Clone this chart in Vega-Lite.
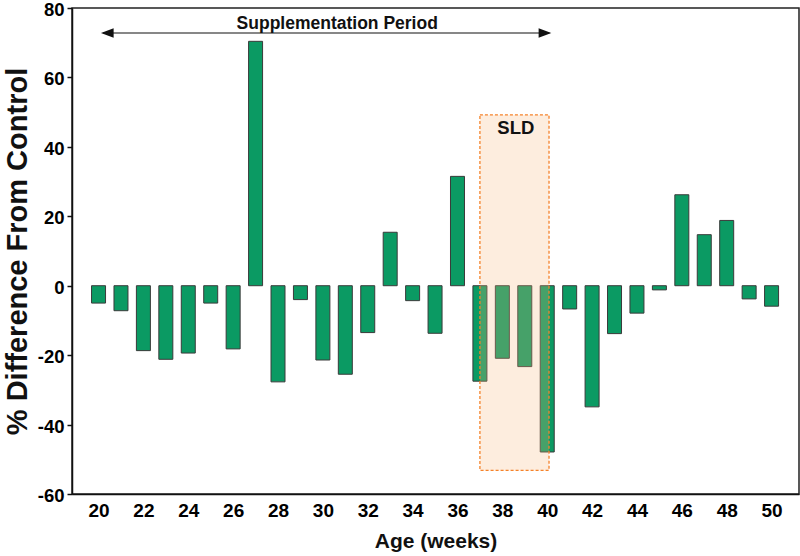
{
  "$schema": "https://vega.github.io/schema/vega-lite/v6.json",
  "autosize": {"type": "none"},
  "width": 727,
  "height": 486,
  "padding": {"left": 72, "top": 8, "right": 1, "bottom": 62},
  "background": "white",
  "config": {
    "font": "Liberation Sans",
    "view": {"stroke": "#222222", "strokeWidth": 1.5},
    "axis": {
      "grid": false,
      "domainColor": "#111111",
      "domainWidth": 1.5,
      "labelFont": "Liberation Sans",
      "labelFontWeight": 700,
      "labelColor": "#000000",
      "titleFont": "Liberation Sans",
      "titleFontWeight": "bold",
      "titleColor": "#111111"
    },
    "axisY": {"labelFontWeight": 700, "labelFontSize": 18.5}
  },
  "datasets": {
    "bars": [
      {"week": 20, "diff": -5.0},
      {"week": 21, "diff": -7.2},
      {"week": 22, "diff": -18.7},
      {"week": 23, "diff": -21.2},
      {"week": 24, "diff": -19.4},
      {"week": 25, "diff": -5.0},
      {"week": 26, "diff": -18.2},
      {"week": 27, "diff": 70.4},
      {"week": 28, "diff": -27.7},
      {"week": 29, "diff": -4.0},
      {"week": 30, "diff": -21.4},
      {"week": 31, "diff": -25.5},
      {"week": 32, "diff": -13.5},
      {"week": 33, "diff": 15.4},
      {"week": 34, "diff": -4.3},
      {"week": 35, "diff": -13.7},
      {"week": 36, "diff": 31.5},
      {"week": 37, "diff": -27.5},
      {"week": 38, "diff": -20.9},
      {"week": 39, "diff": -23.3},
      {"week": 40, "diff": -47.9},
      {"week": 41, "diff": -6.7},
      {"week": 42, "diff": -34.9},
      {"week": 43, "diff": -13.8},
      {"week": 44, "diff": -7.9},
      {"week": 45, "diff": -1.2},
      {"week": 46, "diff": 26.2},
      {"week": 47, "diff": 14.7},
      {"week": 48, "diff": 18.8},
      {"week": 49, "diff": -3.8},
      {"week": 50, "diff": -5.9}
    ],
    "sld": [{"start": 37.0, "end": 40.08, "low": -53.2, "high": 49.2}],
    "period": [{"start": 20.2, "end": 40.1, "level": 72.8}],
    "heads": [
      {"week": 20.39, "level": 72.8, "dir": "left"},
      {"week": 39.9, "level": 72.8, "dir": "right"}
    ],
    "labels": [
      {"week": 30.64, "level": 74.0, "text": "Supplementation Period", "size": 17.5},
      {"week": 38.6, "level": 43.8, "text": "SLD", "size": 18.5}
    ]
  },
  "layer": [
    {
      "data": {"name": "bars"},
      "mark": {"type": "bar", "orient": "vertical", "width": 14, "fill": "#0b9a63", "stroke": "#3a3a3a", "strokeWidth": 1},
      "encoding": {
        "x": {
          "field": "week", "type": "quantitative",
          "scale": {"domain": [19.04, 51.0], "nice": false, "zero": false},
          "axis": {
            "values": [20, 22, 24, 26, 28, 30, 32, 34, 36, 38, 40, 42, 44, 46, 48, 50],
            "format": "d",
            "ticks": false,
            "labelPadding": 7,
            "labelFontSize": 19,
            "labelFontWeight": "bold",
            "title": "Age (weeks)",
            "titleFontSize": 21,
            "titlePadding": 10
          }
        },
        "y": {
          "field": "diff", "type": "quantitative",
          "scale": {"domain": [-60, 80], "nice": false},
          "axis": {
            "values": [-60, -40, -20, 0, 20, 40, 60, 80],
            "labelExpr": "datum.value < 0 ? '-' + abs(datum.value) : '' + datum.value",
            "tickSize": 5,
            "tickWidth": 1.5,
            "tickColor": "#111111",
            "labelPadding": 3,
            "labelOffset": 1.5,
            "title": "% Difference From Control",
            "titleFontSize": 29,
            "titlePadding": 5
          }
        },
        "y2": {"datum": 0}
      }
    },
    {
      "data": {"name": "sld"},
      "mark": {"type": "rect", "fill": "#f7b77a", "fillOpacity": 0.25, "stroke": "#f5822a", "strokeWidth": 1.3, "strokeDash": [3, 2]},
      "encoding": {
        "x": {"field": "start", "type": "quantitative"},
        "x2": {"field": "end"},
        "y": {"field": "low", "type": "quantitative"},
        "y2": {"field": "high"}
      }
    },
    {
      "mark": {"type": "rule", "color": "#333333", "strokeWidth": 1.5},
      "encoding": {"y": {"datum": 0, "type": "quantitative"}}
    },
    {
      "data": {"name": "period"},
      "mark": {"type": "rule", "color": "#111111", "strokeWidth": 1.2},
      "encoding": {
        "x": {"field": "start", "type": "quantitative"},
        "x2": {"field": "end"},
        "y": {"field": "level", "type": "quantitative"}
      }
    },
    {
      "data": {"name": "heads"},
      "mark": {"type": "point", "filled": true, "color": "#111111", "opacity": 1, "size": 160},
      "encoding": {
        "x": {"field": "week", "type": "quantitative"},
        "y": {"field": "level", "type": "quantitative"},
        "shape": {
          "field": "dir", "type": "nominal",
          "scale": {"domain": ["left", "right"], "range": ["M-1,0L1,-0.75L1,0.75Z", "M1,0L-1,-0.75L-1,0.75Z"]},
          "legend": null
        }
      }
    },
    {
      "data": {"name": "labels"},
      "mark": {"type": "text", "fontWeight": "bold", "color": "#111111", "align": "center", "baseline": "alphabetic"},
      "encoding": {
        "x": {"field": "week", "type": "quantitative"},
        "y": {"field": "level", "type": "quantitative"},
        "text": {"field": "text"},
        "size": {"field": "size", "type": "quantitative", "scale": null}
      }
    }
  ]
}
